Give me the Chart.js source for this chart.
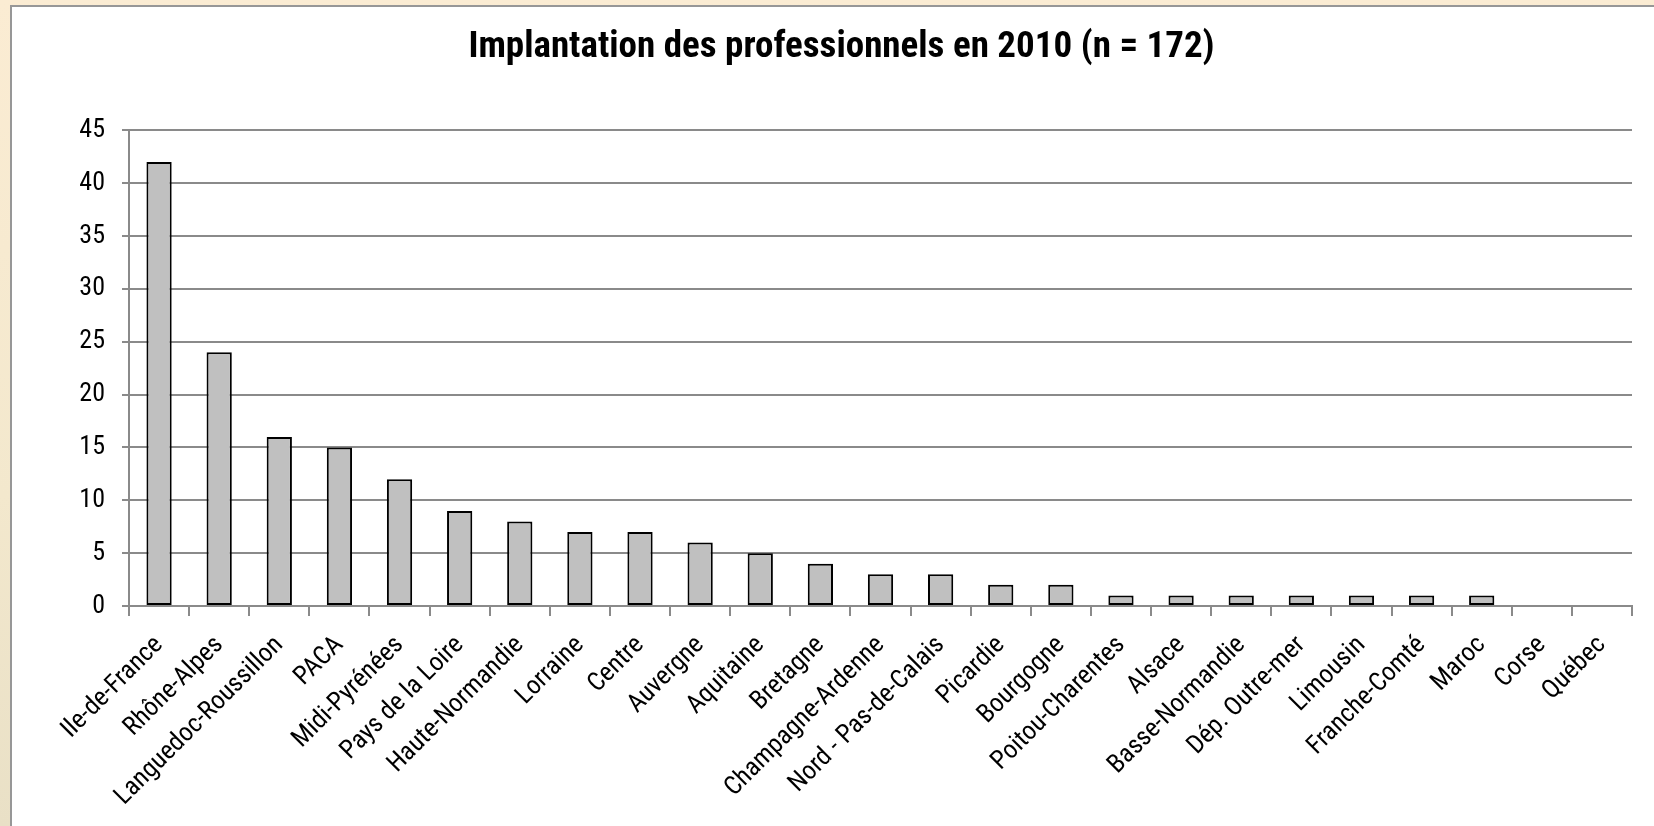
<!DOCTYPE html>
<html>
<head>
<meta charset="utf-8">
<script src="https://cdn.jsdelivr.net/npm/chart.js@4"></script>
<style>
  html, body { margin: 0; padding: 0; }
  body {
    width: 1654px; height: 826px; overflow: hidden; position: relative;
    background: linear-gradient(180deg, #fbecd3 0%, #f3e8cd 60%, #e9e0c6 100%);
  }
  #frame {
    position: absolute; left: 10px; top: 5px; right: 0; bottom: 0;
    border-left: 2px solid #979797; border-top: 2px solid #979797;
    background: #fff;
  }
  #wrap { position: absolute; left: 1px; top: 0; width: 1641px; height: 819px; }
</style>
</head>
<body>
<div id="frame"><div id="wrap"><canvas id="chart"></canvas></div></div>
<script>
const regions = ['Ile-de-France', 'Rhône-Alpes', 'Languedoc-Roussillon', 'PACA', 'Midi-Pyrénées',
  'Pays de la Loire', 'Haute-Normandie', 'Lorraine', 'Centre', 'Auvergne', 'Aquitaine', 'Bretagne',
  'Champagne-Ardenne', 'Nord - Pas-de-Calais', 'Picardie', 'Bourgogne', 'Poitou-Charentes', 'Alsace',
  'Basse-Normandie', 'Dép. Outre-mer', 'Limousin', 'Franche-Comté', 'Maroc', 'Corse', 'Québec'];
const counts = [42, 24, 16, 15, 12, 9, 8, 7, 7, 6, 5, 4, 3, 3, 2, 2, 1, 1, 1, 1, 1, 1, 1, 0, 0];
const yMax = 45;
const yStep = 5;
const chartTitle = 'Implantation des professionnels en 2010 (n = 172)';

const FONT = "'Roboto Condensed', 'Liberation Sans', Arial, sans-serif";
const GRID = '#8a8a8a';

new Chart(document.getElementById('chart'), {
  type: 'bar',
  data: {
    labels: regions,
    datasets: [{
      data: counts,
      backgroundColor: '#c0c0c0',
      borderColor: '#000000',
      borderWidth: 2,
      borderSkipped: false,
      barPercentage: 0.42,
      categoryPercentage: 1
    }]
  },
  options: {
    responsive: true,
    maintainAspectRatio: false,
    animation: false,
    // left padding pushes the centred title right; the y axis is narrowed by the same amount
    layout: { padding: { left: 38, right: 22, top: 0, bottom: 0 } },
    plugins: {
      legend: { display: false },
      tooltip: { enabled: false },
      title: {
        display: true,
        text: chartTitle,
        color: '#000',
        font: { family: FONT, size: 37, weight: 'bold', lineHeight: 1.2 },
        padding: { top: 19, bottom: 60 }
      }
    },
    scales: {
      x: {
        grid: { drawOnChartArea: false, offset: true, tickLength: 10, color: GRID, lineWidth: 2 },
        border: { color: GRID, width: 2 },
        ticks: {
          autoSkip: false, maxRotation: 45, minRotation: 45, padding: 14,
          color: '#000', font: { family: FONT, size: 26 }
        },
        afterFit: (scale) => { scale.height = 220; scale.paddingLeft = 0; scale.paddingRight = 0; }
      },
      y: {
        min: 0, max: yMax,
        grid: { tickLength: 7, color: GRID, lineWidth: 2 },
        border: { color: GRID, width: 2 },
        ticks: { stepSize: yStep, padding: 17, color: '#000', font: { family: FONT, size: 26 } },
        afterFit: (scale) => { scale.width = 78; }
      }
    }
  }
});
</script>
</body>
</html>
